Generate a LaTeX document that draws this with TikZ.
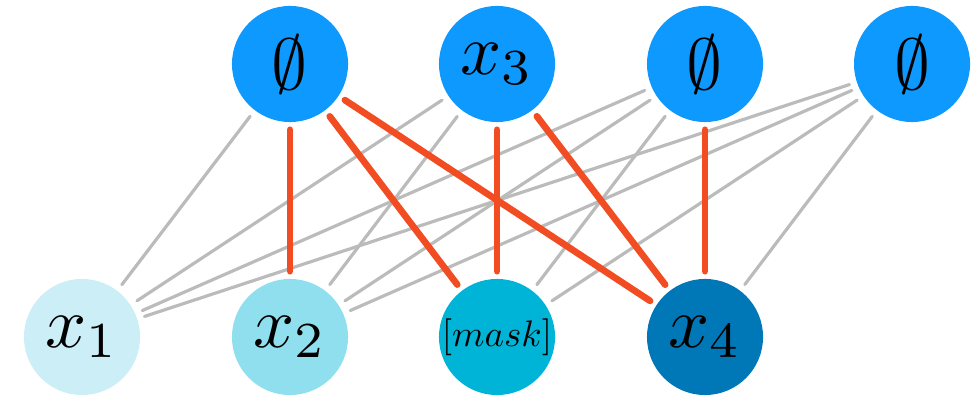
\documentclass[tikz,border=0pt]{standalone}
\usepackage{amsmath}
\usepackage{amssymb}
\usepackage{graphicx}
\usepackage{xcolor}
\usepackage{tikz}
\usetikzlibrary{positioning,arrows.meta,calc}

\definecolor{topblue}{HTML}{0E99FF}
\definecolor{xone}{HTML}{CBEEF7}
\definecolor{xtwo}{HTML}{90DFEE}
\definecolor{xmask}{HTML}{00B4D8}
\definecolor{xfour}{HTML}{0077B6}
\definecolor{linkred}{HTML}{F24C22}
\definecolor{linkgray}{HTML}{BBBBBB}
\newcommand{\bigtok}[1]{\scalebox{2.05}{$#1$}}

\begin{document}
\begin{tikzpicture}[x=0.01cm,y=-0.01cm,
    tok/.style={circle,inner sep=0pt,minimum size=1.16cm},
    top/.style={tok,fill=topblue},
    lnk/.style={draw=linkgray,line width=0.9pt,line cap=round,shorten <=2pt,shorten >=2pt},
    hit/.style={draw=linkred,line width=1.9pt,line cap=round,shorten <=2pt,shorten >=2pt}
  ]
    \useasboundingbox (0,0) rectangle (974,398);
    \node[top] (t1) at (290,64) {\bigtok{\emptyset}};
    \node[top] (t2) at (497,64) {\bigtok{x_3}};
    \node[top] (t3) at (705,64) {\bigtok{\emptyset}};
    \node[top] (t4) at (912,64) {\bigtok{\emptyset}};
    \node[tok,fill=xone] (b1) at (82,337) {\bigtok{x_1}};
    \node[tok,fill=xtwo] (b2) at (290,337) {\bigtok{x_2}};
    \node[tok,fill=xmask] (b3) at (497,337) {\scalebox{1.05}{$[mask]$}};
    \node[tok,fill=xfour] (b4) at (705,337) {\bigtok{x_4}};
    % gray links
    \draw[lnk] (t1)--(b1); \draw[lnk] (t2)--(b1); \draw[lnk] (t2)--(b2);
    \draw[lnk] (t3)--(b1); \draw[lnk] (t3)--(b2); \draw[lnk] (t3)--(b3);
    \draw[lnk] (t4)--(b1); \draw[lnk] (t4)--(b2); \draw[lnk] (t4)--(b3); \draw[lnk] (t4)--(b4);
    % red links
    \draw[hit] (t1)--(b2); \draw[hit] (t1)--(b3); \draw[hit] (t1)--(b4);
    \draw[hit] (t2)--(b3); \draw[hit] (t2)--(b4);
    \draw[hit] (t3)--(b4);
  \end{tikzpicture}
\end{document}
